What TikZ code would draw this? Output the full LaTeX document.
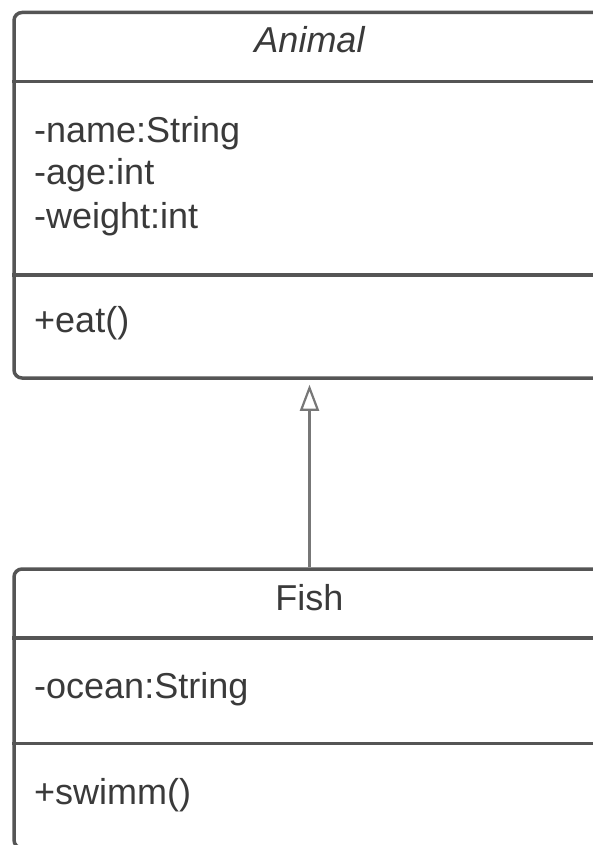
\documentclass[tikz,border=0pt]{standalone}
\usepackage{fontspec}
\setmainfont{Liberation Sans}
\usetikzlibrary{arrows.meta}
\definecolor{boxline}{HTML}{555555}
\definecolor{txt}{HTML}{3A3A3A}
\definecolor{arrowgray}{HTML}{777777}
\begin{document}
\begin{tikzpicture}[x=1pt,y=-1pt,
  classbox/.style={draw=boxline,line width=3.5pt,rounded corners=8pt,minimum width=591pt,inner sep=0pt,fill=white},
  divider/.style={draw=boxline,line width=3.5pt},
  member/.style={anchor=base west,inner sep=0pt,text=txt,font=\fontsize{36}{42}\selectfont},
  title/.style={anchor=base,inner sep=0pt,text=txt,font=\fontsize{36}{42}\selectfont},
  inherit/.style={draw=arrowgray,line width=2.5pt,-{Triangle[open,length=26pt,width=19pt,line width=2.2pt]},shorten >=5pt}]
\useasboundingbox (0,0) rectangle (593,845);
% Animal class
\node[classbox,minimum height=365.5pt] (animal) at (309.5,195.25) {};
\draw[divider] (animal.west |- 0,81.5) -- (animal.east |- 0,81.5);
\draw[divider] (animal.west |- 0,275) -- (animal.east |- 0,275);
\node[title,font=\fontsize{36}{42}\selectfont\itshape] (animalname) at (309.5,53) {Animal};
\node[member] (aname) at (34,143) {-name:String};
\node[member] (aage) at (34,185) {-age:int};
\node[member] (aweight) at (34,228) {-weight:int};
\node[member] (aeat) at (34,332) {+eat()};
% Fish class
\node[classbox,minimum height=279pt] (fish) at (309.5,708.5) {};
\draw[divider] (fish.west |- 0,638) -- (fish.east |- 0,638);
\draw[divider] (fish.west |- 0,743.5) -- (fish.east |- 0,743.5);
\node[title] (fishname) at (309.5,610) {Fish};
\node[member] (focean) at (34,698) {-ocean:String};
\node[member] (fswimm) at (34,804) {+swimm()};
% Inheritance
\draw[inherit] (fish.north) -- (animal.south);
\end{tikzpicture}
\end{document}
